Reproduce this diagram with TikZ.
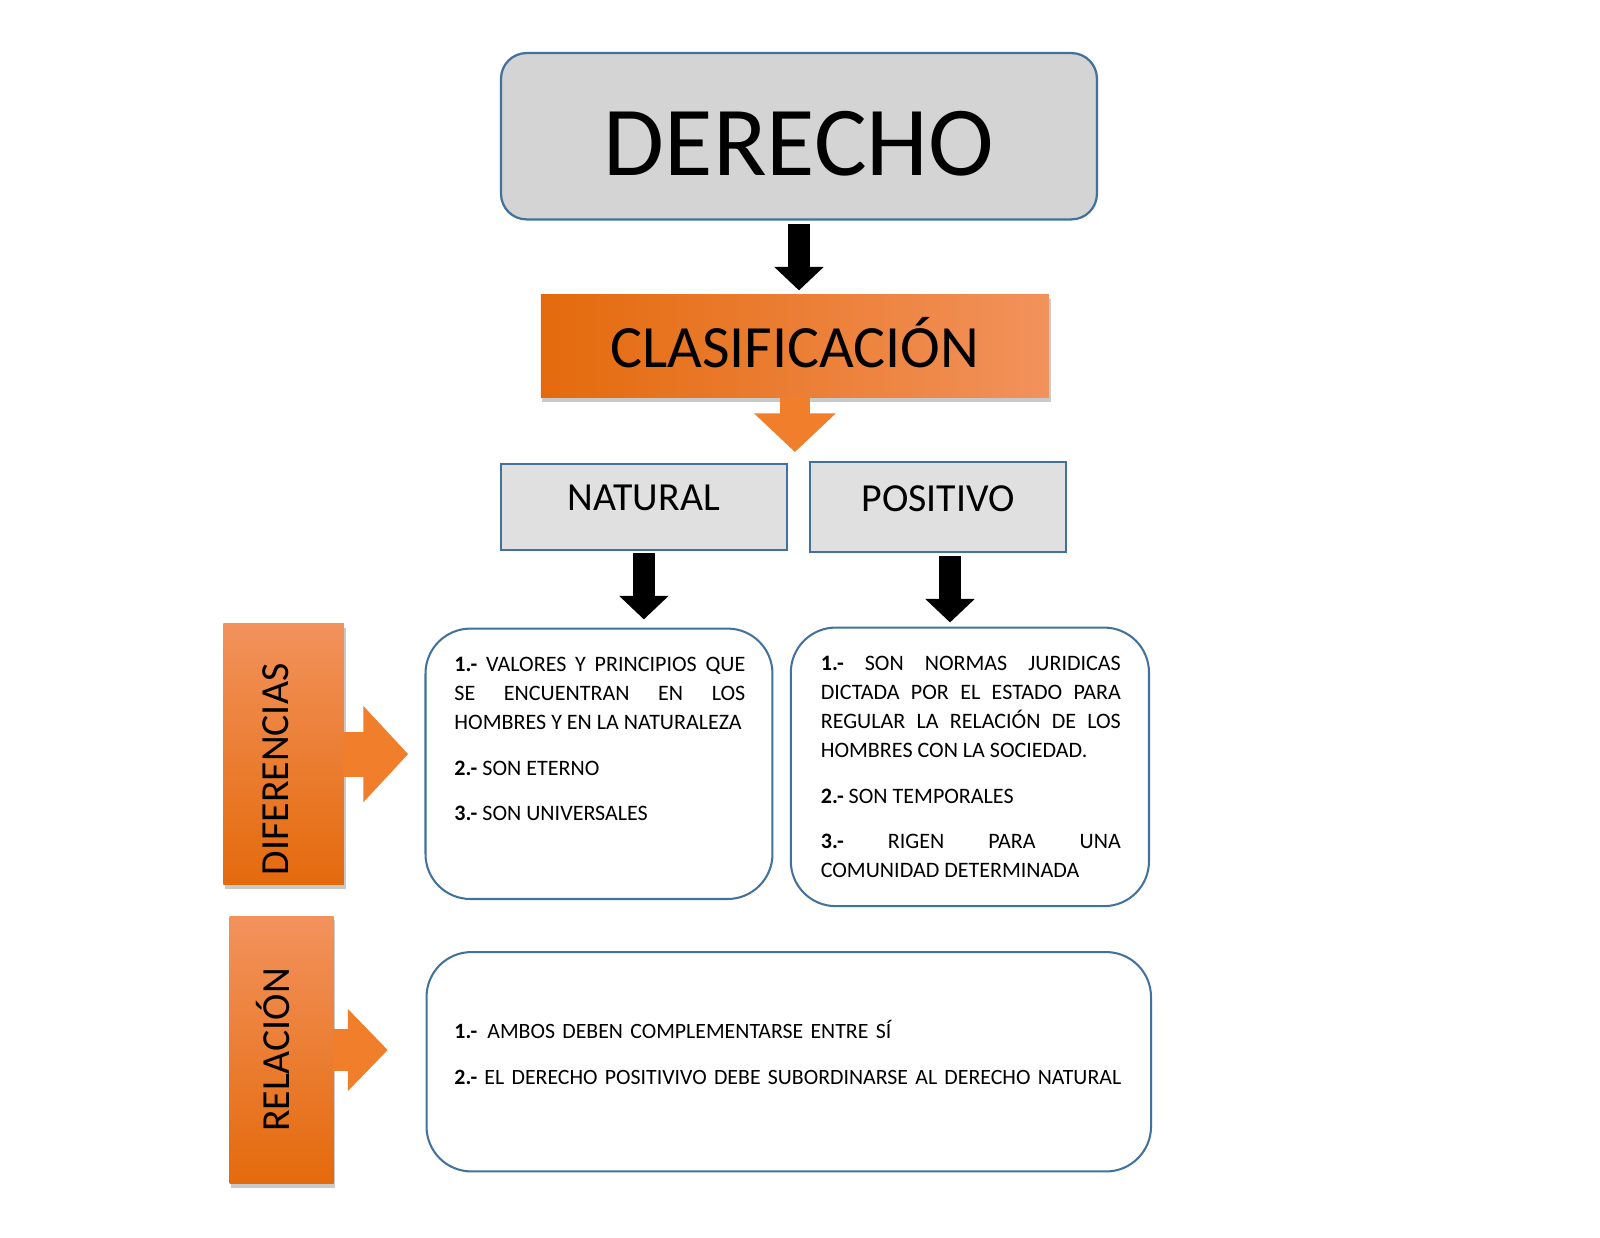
\documentclass[tikz,border=0pt]{standalone}
\usepackage{fontspec}
\setmainfont{Carlito}
\usetikzlibrary{arrows.meta,shadows,calc}
\definecolor{bord}{RGB}{65,113,156}
\definecolor{grayA}{RGB}{212,212,212}
\definecolor{grayB}{RGB}{224,224,224}
\definecolor{orDark}{RGB}{228,106,12}
\definecolor{orLight}{RGB}{242,146,92}
\definecolor{orMid}{RGB}{240,126,42}
\begin{document}
\begin{tikzpicture}[x=0.5pt,y=-0.5pt,
  oshadow/.style={drop shadow={shadow xshift=0.8pt,shadow yshift=-2pt,opacity=0.3,fill=black!70}},
  graybox/.style={draw=bord,line width=1pt,fill=grayB,inner xsep=0pt,inner ysep=0pt},
  contentbox/.style={draw=bord,line width=1pt,fill=white,rounded corners=22pt,inner sep=0pt},
  ctext/.style={inner sep=0pt,font=\fontsize{10.8}{14.25}\selectfont,align=justify},
  blk/.style={draw=black,line width=10.5pt,-{Triangle[width=23.5pt,length=11.5pt]}},
  sidelabel/.style={inner sep=0pt,rotate=90,font=\fontsize{19.5}{23}\selectfont}
]
\useasboundingbox (0,0) rectangle (1568,1212.3);

% top box
\node[draw=bord,line width=1.1pt,fill=grayA,rounded corners=12.5pt,
      minimum width=292pt,inner xsep=0pt,inner ysep=0pt,
      text height=60pt,text depth=21.5pt,
      font=\fontsize{48.5}{58}\selectfont] (der) at (783,133.5) {DERECHO};

% classification
\node[left color=orDark,right color=orLight,oshadow,
      minimum width=249pt,inner xsep=0pt,inner ysep=0pt,
      text height=35.5pt,text depth=15pt,
      font=\fontsize{29.4}{35}\selectfont] (clas) at (779,339.5) {CLASIFICACIÓN};

\draw[blk] ([yshift=-1.5pt]der.south) -- ([yshift=2pt]der.south |- clas.north);

\coordinate (clastip) at (779,443);
\draw[draw=orMid,line width=15pt,-{Triangle[width=39pt,length=19pt]}]
  ([yshift=0.5pt]clas.south) -- (clastip);

% natural / positivo
\node[graybox,minimum width=140pt,text height=22.75pt,text depth=19.25pt,
      font=\fontsize{19.5}{23}\selectfont] (nat) at (631,497) {NATURAL};
\node[graybox,minimum width=125.5pt,text height=24pt,text depth=20pt,
      font=\fontsize{19.5}{23}\selectfont] (pos) at (919.5,497) {POSITIVO};

% content boxes
\node[contentbox,minimum width=170pt,minimum height=132.5pt] (natbox) at (587,748.5) {};
\node[contentbox,minimum width=175.5pt,minimum height=136.5pt] (posbox) at (950.5,751.5) {};
\node[contentbox,minimum width=355pt,minimum height=107.5pt] (relbox) at (773,1040.5) {};

\draw[blk] ([yshift=-1pt]nat.south) -- ([yshift=4pt]nat.south |- natbox.north);
\draw[blk] ([xshift=5.75pt,yshift=-1.5pt]pos.south) -- ([xshift=5.75pt,yshift=2pt]pos.south |- posbox.north);

% side labels
\node[top color=orLight,bottom color=orDark,oshadow,minimum width=59pt,minimum height=128pt,inner sep=0pt] (dif) at (278,739) {};
\node[sidelabel] (diftext) at (270,754) {DIFERENCIAS};
\node[top color=orLight,bottom color=orDark,oshadow,minimum width=51pt,minimum height=131pt,inner sep=0pt] (rel) at (276,1029) {};
\node[sidelabel] (reltext) at (268,1029) {RELACIÓN};

\draw[draw=orMid,line width=22pt,-{Triangle[width=46pt,length=22pt]}]
  ([xshift=-0.5pt]dif.east) -- ([xshift=-8pt]natbox.west |- dif.east);
\draw[draw=orMid,line width=21pt,-{Triangle[width=39pt,length=19.5pt]}]
  ([xshift=-0.5pt]rel.east) -- ([xshift=-18.5pt]relbox.west |- rel.east);

% texts
\node[ctext,text width=142.5pt,anchor=base west] (nattext) at (445,658)
{\tolerance=10000\hbadness=10000
 \textbf{1.-} VALORES Y PRINCIPIOS QUE\linebreak SE ENCUENTRAN EN LOS\linebreak HOMBRES Y EN LA NATURALEZA\par\vspace{8pt}
 \textbf{2.-} SON ETERNO\par\vspace{8pt}
 \textbf{3.-} SON UNIVERSALES};

\node[ctext,text width=147pt,anchor=base west] (postext) at (804,657)
{\tolerance=10000\hbadness=10000
 \textbf{1.-} SON NORMAS JURIDICAS\linebreak DICTADA POR EL ESTADO PARA\linebreak REGULAR LA RELACIÓN DE LOS\linebreak HOMBRES CON LA SOCIEDAD.\par\vspace{8pt}
 \textbf{2.-} SON TEMPORALES\par\vspace{8pt}
 \textbf{3.-} RIGEN PARA UNA\linebreak COMUNIDAD DETERMINADA};

\node[ctext,text width=340pt,align=left,anchor=base west,font=\fontsize{10.7}{14.25}\selectfont] (reltext2) at (445,1018)
{\textbf{1.-}\hspace{5pt}AMBOS DEBEN COMPLEMENTARSE ENTRE SÍ\par\vspace{8pt}
 \textbf{2.-} EL DERECHO POSITIVIVO DEBE SUBORDINARSE AL DERECHO NATURAL};

\end{tikzpicture}
\end{document}
